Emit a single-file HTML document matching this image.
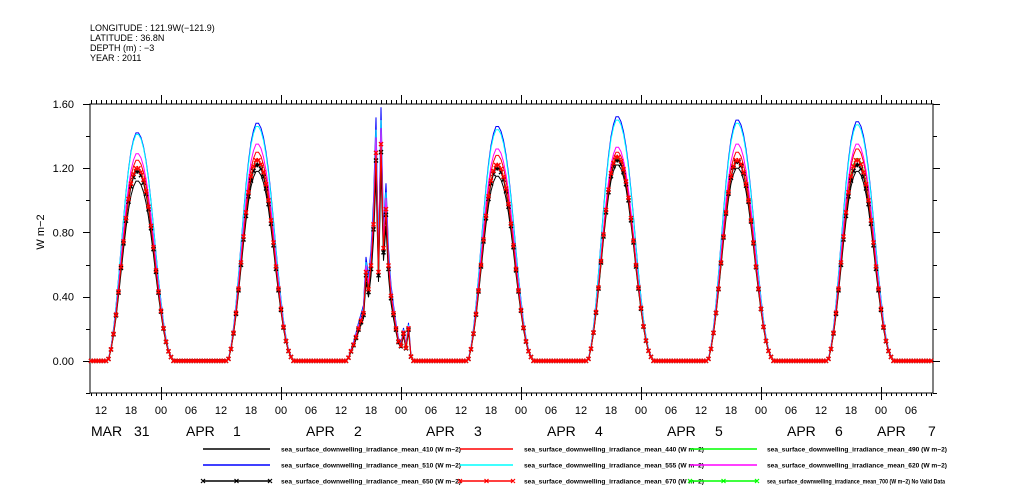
<!DOCTYPE html>
<html><head><meta charset="utf-8"><style>
html,body{margin:0;padding:0;background:#fff;}
svg{display:block;font-family:"Liberation Sans",sans-serif;}
</style></head><body>
<svg id="chart" width="1009" height="504" viewBox="0 0 1009 504" xmlns="http://www.w3.org/2000/svg">
<g font-size="9" fill="#000">
<text x="90" y="31">LONGITUDE : 121.9W(−121.9)</text>
<text x="90" y="41">LATITUDE : 36.8N</text>
<text x="90" y="51">DEPTH (m) : −3</text>
<text x="90" y="61">YEAR : 2011</text>
</g>
<text transform="translate(44,232) rotate(-90)" text-anchor="middle" font-size="11">W m−2</text>
<g id="axes"></g>
<g id="series"></g>
<g id="legend"></g>
</svg>
<script>
// ---- data ----
const seriesNames = ["410","440","490","510","555","620","650","670"];
const dayLabels = ["MAR 31","APR 1","APR 2","APR 3","APR 4","APR 5","APR 6"];
// daily peak values per series (W m-2), Mar31..Apr6
const peaks410 = [1.12,1.18,1.20,1.15,1.22,1.20,1.18];
const peaks440 = [1.25,1.30,1.40,1.28,1.30,1.30,1.32];
const peaks490 = [1.20,1.25,1.35,1.22,1.26,1.25,1.26];
const peaks510 = [1.42,1.48,1.58,1.46,1.52,1.50,1.49];
const peaks555 = [1.41,1.46,1.50,1.44,1.50,1.48,1.47];
const peaks620 = [1.29,1.35,1.45,1.32,1.33,1.35,1.35];
const peaks650 = [1.18,1.22,1.30,1.20,1.25,1.24,1.22];
const peaks670 = [1.20,1.25,1.35,1.22,1.27,1.25,1.25];
// diurnal shape, half-hourly from 13:00 to 27:00 (UTC hours of the day)
const clearShape = [0,0.01,0.06,0.14,0.24,0.36,0.49,0.62,0.74,0.84,0.92,0.97,1.0,1.0,0.98,0.94,0.88,0.8,0.7,0.59,0.47,0.36,0.26,0.17,0.1,0.05,0.02,0,0];
const apr2Shape = [0,0.015,0.045,0.075,0.11,0.15,0.185,0.22,0.41,0.33,0.44,0.63,0.96,0.41,1.0,0.52,0.70,0.44,0.30,0.22,0.15,0.09,0.07,0.13,0.06,0.15,0.02,0,0];
const yTicks = [0,0.4,0.8,1.2,1.6];
const yTickLabels = ["0.00","0.40","0.80","1.20","1.60"];
const hourTickLabels = ["12","18","00","06"];

// ---- scales ----
const X0=90,X1=933,Y0=104,Y1=393;
const tMin=9.8,tMax=178.4,vMin=-0.2,vMax=1.6;
const sx=t=>X0+(t-tMin)/(tMax-tMin)*(X1-X0);
const sy=v=>Y1-(v-vMin)/(vMax-vMin)*(Y1-Y0);
const NS="http://www.w3.org/2000/svg";
function mk(tag,attrs,parent){const e=document.createElementNS(NS,tag);for(const k in attrs)e.setAttribute(k,attrs[k]);parent.appendChild(e);return e;}

const axes=document.getElementById('axes');
let p=mk('path',{d:`M${X0} ${Y0}H${X1}V${Y1}H${X0}Z`,fill:'none',stroke:'#000','stroke-width':1},axes);


let dx='';
for(let h=10;h<=178;h++){
  const x=Math.round(sx(h))+0.5;
  const major=(h%24===0);
  dx+=`M${x} ${Y1}v${major?7:3}M${x} ${Y0}v${major?-9:-4}`;
  if(major) dx+=`M${x} ${Y1}v-6`;
}
p=mk('path',{d:dx,stroke:'#000','stroke-width':1,fill:'none'},axes);


for(let h=12;h<=178;h+=6){
  const t=mk('text',{x:sx(h),y:414,'text-anchor':'middle','font-size':11},axes);
  t.textContent=hourTickLabels[((h-12)/6)%4];
  
  
}
const datePos=[[91,134],[186,233],[306,354],[426,474],[547,595],[667,715],[787,835],[877,928]];
const dateTexts=dayLabels.concat(["APR 7"]);
dateTexts.forEach((s,i)=>{
  const parts=s.split(' ');
  [0,1].forEach(j=>{
    const t=mk('text',{x:datePos[i][j],y:436,'font-size':14},axes);
    t.textContent=parts[j];
    
    
  });
});
let dy='';
for(let v=-0.2;v<=1.61;v+=0.2){
  const y=Math.round(sy(v))+0.5;
  const major=Math.abs(Math.round(v*10)%4)===0 && v>-0.1;
  dy+=`M${X0} ${y}h${major?-7:-4}M${X1} ${y}h${major?7:4}`;
}
p=mk('path',{d:dy,stroke:'#000','stroke-width':1},axes);


yTicks.forEach((v,i)=>{
  const t=mk('text',{x:74,y:sy(v)+4,'text-anchor':'end','font-size':11},axes);
  t.textContent=yTickLabels[i];
  
  
});

// ---- series ----
const allPeaks=[peaks410,peaks440,peaks490,peaks510,peaks555,peaks620,peaks650,peaks670];
const colors=["#000","#f00","#0f0","#00f","#0ff","#f0f","#000","#f00"];
const markers=[false,false,false,false,false,false,true,true];
function buildSeries(pk){
  const pts=[];
  for(let t=10;t<=178.4;t+=0.5){
    const day=Math.floor((t-13+24)/24)-1;
    const off=t-(13+24*day);
    let v=0;
    if(day>=0&&day<7&&off>=0&&off<=14){
      const sh=(day===2?apr2Shape:clearShape)[Math.round(off*2)];
      v=pk[day]*sh;
    }
    pts.push([t,v]);
  }
  return pts;
}
const sg=document.getElementById('series');
allPeaks.forEach((pk,i)=>{
  const pts=buildSeries(pk);
  const g=mk('g',{},sg);
  
  
  const line=mk('path',{d:'M'+pts.map(q=>sx(q[0]).toFixed(1)+' '+sy(q[1]).toFixed(1)).join('L'),fill:'none',stroke:colors[i],'stroke-width':1},g);
  
  
  if(markers[i]){
    let md='';
    pts.forEach(q=>{const x=sx(q[0]),y=sy(q[1]);md+=`M${x-2} ${y-2}l4 4M${x-2} ${y+2}l4 -4`;});
    const m=mk('path',{d:md,stroke:colors[i],'stroke-width':1.4,fill:'none'},g);
    
    
  }
});

// ---- legend ----
const lg=document.getElementById('legend');
const legNames=["410","440","490","510","555","620","650","670","700"];
const legColors=["#000","#f00","#0f0","#00f","#0ff","#f0f","#000","#f00","#0f0"];
const legMark=[false,false,false,false,false,false,true,true,true];
const colLine=[[203,270],[460,513],[690,757]];
const colText=[281,524,767];
const rowY=[449,465,481];
legNames.forEach((n,i)=>{
  const r=Math.floor(i/3),c=i%3;
  const g=mk('g',{},lg);
  
  
  const y=rowY[r];
  mk('path',{d:`M${colLine[c][0]} ${y}H${colLine[c][1]}`,stroke:legColors[i],'stroke-width':1.5},g);
  if(legMark[i]){
    let md='';
    [colLine[c][0],(colLine[c][0]+colLine[c][1])/2,colLine[c][1]].forEach(x=>{md+=`M${x-2} ${y-2}l4 4M${x-2} ${y+2}l4 -4`;});
    mk('path',{d:md,stroke:legColors[i],'stroke-width':1.2},g);
  }
  const t=mk('text',{x:colText[c],y:rowY[r]+2.5,'font-size':6.5,'font-weight':'bold'},g);
  t.textContent='sea_surface_downwelling_irradiance_mean_'+n+' (W m−2)'+(n==='700'?' No Valid Data':'');
  t.setAttribute('textLength',n==='700'?178:180);
  t.setAttribute('lengthAdjust','spacingAndGlyphs');
});
</script>
</body></html>
